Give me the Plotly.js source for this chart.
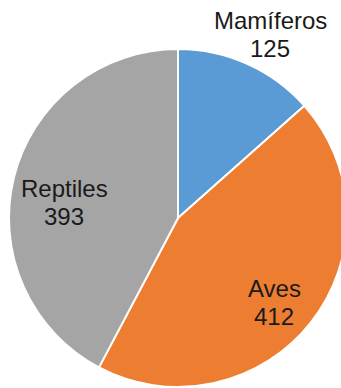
<!DOCTYPE html>
<html><head><meta charset="utf-8">
<script src="https://cdn.plot.ly/plotly-3.0.1.min.js"></script>
<style>html,body{margin:0;padding:0;overflow:hidden;width:341px;height:388px;background:#fff}#chart{width:360px;height:388px}</style>
</head><body><div id="chart"></div>
<script>
const labels = ['Mamíferos', 'Aves', 'Reptiles'];
const values = [125, 412, 393];
const colors = ['#5B9BD5', '#ED7D31', '#A5A5A5'];
const W = 360, H = 388;
// label placement (pixels: centre x, cap-middle y of first line)
const labelAt = [[270, 20], [274, 288.5], [64, 188.5]];
const lineGap = 28;
const font = {family: 'Liberation Sans, Arial, sans-serif', size: 24, color: '#1a1a1a'};
const annotations = [];
labels.forEach((lab, i) => {
  const [px, py] = labelAt[i];
  [lab, String(values[i])].forEach((t, k) => {
    annotations.push({
      text: t, showarrow: false, font: font,
      xref: 'paper', yref: 'paper', xanchor: 'center', yanchor: 'middle',
      x: px / W, y: 1 - (py + k * lineGap) / H
    });
  });
});
Plotly.newPlot('chart', [{
  type: 'pie', labels: labels, values: values, sort: false,
  direction: 'clockwise', rotation: 0,
  marker: {colors: colors, line: {color: '#ffffff', width: 2}},
  textinfo: 'none', hoverinfo: 'none',
  domain: {x: [9 / W, 347 / W], y: [1 / H, 339 / H]}
}], {
  width: W, height: H, margin: {l: 0, r: 0, t: 0, b: 0},
  showlegend: false, paper_bgcolor: '#ffffff', annotations: annotations
}, {staticPlot: true, displayModeBar: false});
</script></body></html>
